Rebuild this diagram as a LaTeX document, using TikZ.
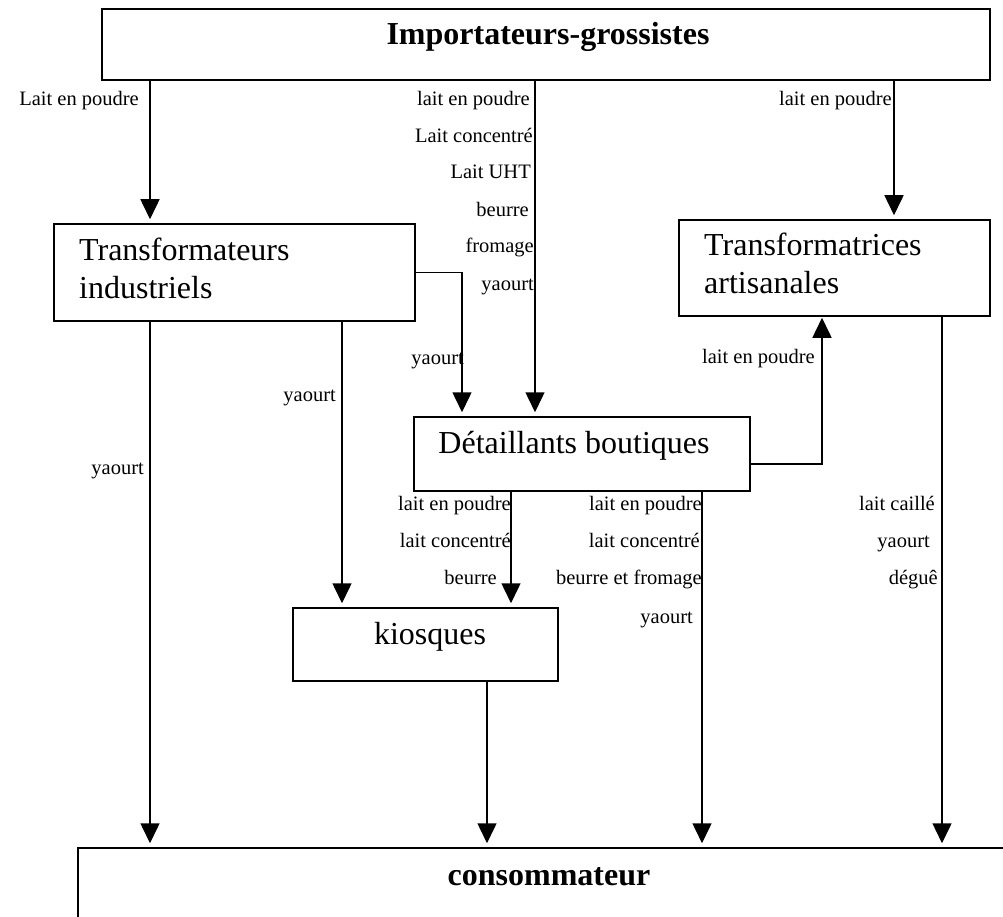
\documentclass[tikz,border=0pt]{standalone}
\usepackage{fontspec}
\setmainfont{Liberation Serif}
\usetikzlibrary{arrows.meta}
\newcommand\lblfont{\fontsize{20.5}{24}\selectfont}
\newcommand\bigfont{\fontsize{32}{37.5}\selectfont}
\begin{document}
\begin{tikzpicture}[x=1pt,y=-1pt,
  box/.style={draw,line width=1.5pt,rectangle,inner sep=0pt},
  arr/.style={line width=1.5pt,-{Triangle[length=20pt,width=19pt]},shorten >=4pt},
  lbl/.style={anchor=base east,inner sep=0pt,font=\lblfont},
  big/.style={inner sep=0pt,font=\bigfont}]
\useasboundingbox (0,0) rectangle (1003,917);
\clip (0,0) rectangle (1003,917);
% boxes
\node[box,minimum width=888pt,minimum height=71pt] (imp) at (546,44.5) {};
\node[big,anchor=base,font=\bigfont\bfseries] (impt) at (548,45) {Importateurs-grossistes};
\node[box,minimum width=361pt,minimum height=97pt] (ti) at (234.5,272.5) {};
\node[big,anchor=base west,align=left] (tit) at (79,298) {Transformateurs\\industriels};
\node[box,minimum width=311pt,minimum height=96pt] (ta) at (834.5,268) {};
\node[big,anchor=base west,align=left] (tat) at (704,293) {Transformatrices\\artisanales};
\node[box,minimum width=336pt,minimum height=74pt] (det) at (582,454) {};
\node[big,anchor=base] (dett) at (574,453) {Détaillants boutiques};
\node[box,minimum width=265pt,minimum height=73pt] (kio) at (425.5,644.5) {};
\node[big,anchor=base] (kiot) at (430,644) {kiosques};
\node[box,minimum width=932pt,minimum height=82pt] (con) at (544,889) {};
\node[big,anchor=base,font=\bigfont\bfseries] (cont) at (549,885) {consommateur};
% column coordinates
\coordinate (xa) at (150,0);
\coordinate (xb) at (535,0);
\coordinate (xc) at (894,0);
\coordinate (xd) at (462,0);
\coordinate (xe) at (342,0);
\coordinate (xf) at (822,0);
\coordinate (xg) at (511,0);
\coordinate (xh) at (702,0);
\coordinate (xi) at (942,0);
\coordinate (xj) at (487,0);
% connectors
\draw[arr] (imp.south -| xa) -- (ti.north -| xa);
\draw[arr] (imp.south -| xb) -- (det.north -| xb);
\draw[arr] (imp.south -| xc) -- (ta.north -| xc);
\draw[arr] (ti.east) -| (det.north -| xd);
\draw[arr] (ti.south -| xe) -- (kio.north -| xe);
\draw[arr] (ti.south -| xa) -- (con.north -| xa);
\draw[arr,shorten >=1pt] ([yshift=-10pt]det.east) -| (ta.south -| xf);
\draw[arr] (det.south -| xg) -- (kio.north -| xg);
\draw[arr] (det.south -| xh) -- (con.north -| xh);
\draw[arr] (ta.south -| xi) -- (con.north -| xi);
\draw[arr] (kio.south -| xj) -- (con.north -| xj);
% labels
\node[lbl] (l1) at (139,106) {Lait en poudre};
\node[lbl] (l2) at (530,106) {lait en poudre};
\node[lbl] (l3) at (533,143) {Lait concentré};
\node[lbl] (l4) at (531,179) {Lait UHT};
\node[lbl] (l5) at (529,217) {beurre};
\node[lbl] (l6) at (534,253) {fromage};
\node[lbl] (l7) at (534,290) {yaourt};
\node[lbl] (l8) at (892,106) {lait en poudre};
\node[lbl] (l9) at (464,364) {yaourt};
\node[lbl] (l10) at (336,401) {yaourt};
\node[lbl] (l11) at (144,474) {yaourt};
\node[lbl] (l12) at (815,363) {lait en poudre};
\node[lbl] (l13) at (511,510) {lait en poudre};
\node[lbl] (l14) at (511,547) {lait concentré};
\node[lbl] (l15) at (497,584) {beurre};
\node[lbl] (l16) at (702,510) {lait en poudre};
\node[lbl] (l17) at (700,547) {lait concentré};
\node[lbl] (l18) at (702,584) {beurre et fromage};
\node[lbl] (l19) at (693,623) {yaourt};
\node[lbl] (l20) at (935,510) {lait caillé};
\node[lbl] (l21) at (930,547) {yaourt};
\node[lbl] (l22) at (938,584) {déguê};
\end{tikzpicture}
\end{document}
